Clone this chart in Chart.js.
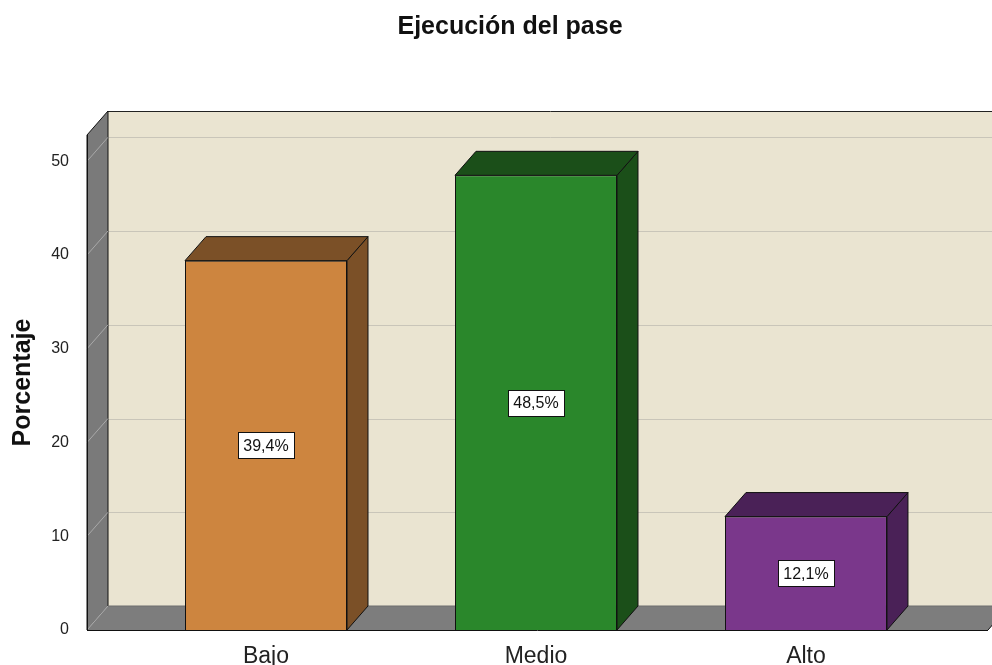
<!DOCTYPE html>
<html lang="es">
<head>
<meta charset="utf-8">
<title>Ejecución del pase</title>
<script src="https://cdn.jsdelivr.net/npm/chart.js@4.4.1/dist/chart.umd.min.js"></script>
<style>
  html, body { margin: 0; padding: 0; background: #ffffff; }
  #wrap { position: relative; width: 992px; height: 665px; }
</style>
</head>
<body>
<div id="wrap"><canvas id="paseChart"></canvas></div>
<script>
// --- data ---
const categories = ['Bajo', 'Medio', 'Alto'];
const percentages = [39.4, 48.5, 12.1];
const yTicks = [0, 10, 20, 30, 40, 50];

// --- styles ---
const frontColors = ['#CD853F', '#2A872B', '#7A378B'];
const sideColors = ['#7B5027', '#1B4F19', '#4A2157'];
const DX = 21, DY = -24;            // depth offset of the 3D box
const FONT = "'Liberation Sans', Arial, sans-serif";

function fmtPct(v) {
  return v.toFixed(1).replace('.', ',') + '%';
}

function poly(ctx, pts, fill, stroke) {
  ctx.beginPath();
  ctx.moveTo(pts[0][0], pts[0][1]);
  for (let i = 1; i < pts.length; i++) ctx.lineTo(pts[i][0], pts[i][1]);
  ctx.closePath();
  if (fill) { ctx.fillStyle = fill; ctx.fill(); }
  if (stroke) { ctx.strokeStyle = stroke; ctx.lineWidth = 1; ctx.stroke(); }
}

function line(ctx, x1, y1, x2, y2, color) {
  ctx.beginPath();
  ctx.moveTo(x1, y1);
  ctx.lineTo(x2, y2);
  ctx.strokeStyle = color;
  ctx.lineWidth = 1;
  ctx.stroke();
}

// walls, floor, grid and the side/top faces of the bars
const box3d = {
  id: 'box3d',
  beforeDatasetsDraw(chart) {
    const { ctx, chartArea: { left, top, bottom, right }, scales: { y } } = chart;
    const R = right - 4;
    ctx.save();

    // back wall
    ctx.fillStyle = '#EAE4D1';
    ctx.fillRect(left + DX, top + DY, R - left, bottom - top);
    yTicks.forEach(v => {
      if (v === 0) return;
      const py = Math.round(y.getPixelForValue(v) + DY) + 0.5;
      line(ctx, left + DX, py, R + DX, py, '#C9C5B9');
    });
    line(ctx, left + DX, Math.round(top + DY) + 0.5, R + DX, Math.round(top + DY) + 0.5, '#222');

    // left wall
    poly(ctx, [[left, top], [left + DX, top + DY], [left + DX, bottom + DY], [left, bottom]], '#7A7A7A', '#111');
    yTicks.forEach(v => {
      const py = y.getPixelForValue(v);
      line(ctx, left, py, left + DX, py + DY, '#A9A9A9');
    });

    // floor
    poly(ctx, [[left, bottom], [left + DX, bottom + DY], [R + DX, bottom + DY], [R, bottom]], '#7D7D7D', null);
    line(ctx, left, bottom, left + DX, bottom + DY, '#A9A9A9');
    line(ctx, left + DX, bottom + DY, R + DX, bottom + DY, '#6E6E6E');

    // bar side and top faces
    const meta = chart.getDatasetMeta(0);
    meta.data.forEach((bar, i) => {
      const { x, y: yTop, base, width } = bar.getProps(['x', 'y', 'base', 'width'], true);
      const l = x - width / 2, r = x + width / 2;
      poly(ctx, [[r, yTop], [r + DX, yTop + DY], [r + DX, base + DY], [r, base]], sideColors[i], '#111');
      poly(ctx, [[l, yTop], [l + DX, yTop + DY], [r + DX, yTop + DY], [r, yTop]], sideColors[i], '#111');
    });
    ctx.restore();
  },
  afterDatasetsDraw(chart) {
    const { ctx, chartArea: { left, top, bottom, right } } = chart;
    const R = right - 4;
    ctx.save();
    // front edges
    line(ctx, left + 0.5, top, left + 0.5, bottom, '#111');
    line(ctx, left, bottom + 0.5, R, bottom + 0.5, '#111');
    line(ctx, R, bottom, R + DX, bottom + DY, '#111');

    // value boxes
    ctx.font = '16px ' + FONT;
    ctx.textAlign = 'center';
    ctx.textBaseline = 'middle';
    const meta = chart.getDatasetMeta(0);
    meta.data.forEach((bar, i) => {
      const { x, y: yTop, base } = bar.getProps(['x', 'y', 'base'], true);
      const text = fmtPct(percentages[i]);
      const w = Math.ceil(ctx.measureText(text).width) + 10;
      const h = 26;
      const cy = (yTop + base) / 2;
      const bx = Math.round(x - w / 2) + 0.5, by = Math.round(cy - h / 2) + 0.5;
      ctx.fillStyle = '#ffffff';
      ctx.fillRect(bx, by, w, h);
      ctx.strokeStyle = '#111';
      ctx.lineWidth = 1;
      ctx.strokeRect(bx, by, w, h);
      ctx.fillStyle = '#111';
      ctx.fillText(text, x, cy + 1);
    });
    ctx.restore();
  }
};

const ctx = document.getElementById('paseChart');

new Chart(ctx, {
  type: 'bar',
  data: {
    datasets: [{
      label: 'Porcentaje',
      data: percentages.map((v, i) => ({ x: i, y: v })),
      backgroundColor: frontColors,
      borderColor: '#111',
      borderWidth: 1,
      barPercentage: 0.6,
      categoryPercentage: 1
    }]
  },
  options: {
    responsive: true,
    maintainAspectRatio: false,
    animation: false,
    layout: { padding: { left: 0, right: -28, top: 0, bottom: 0 } },
    plugins: {
      legend: { display: false },
      tooltip: { enabled: false },
      title: {
        display: true,
        text: 'Ejecución del pase',
        color: '#111',
        font: { family: FONT, size: 25, weight: 'bold' },
        padding: { top: 12, bottom: 93 }
      }
    },
    scales: {
      x: {
        type: 'linear',
        offset: false,
        min: -0.663,
        max: 2.689,
        grid: { display: false },
        border: { display: false },
        afterBuildTicks(scale) {
          scale.ticks = categories.map((c, i) => ({ value: i }));
        },
        afterFit(scale) { scale.height = 35; },
        ticks: {
          padding: 5,
          color: '#222',
          font: { family: FONT, size: 23 },
          callback: (v) => categories[v]
        }
      },
      y: {
        min: 0,
        max: 52.8,
        grid: { display: false },
        border: { display: false },
        afterFit(scale) { scale.width = 87; },
        ticks: {
          stepSize: 10,
          includeBounds: false,
          padding: 10,
          color: '#222',
          font: { family: FONT, size: 16 }
        },
        title: {
          display: true,
          text: 'Porcentaje',
          color: '#111',
          font: { family: FONT, size: 25, weight: 'bold' },
          padding: { top: 8, bottom: 0 }
        }
      }
    }
  },
  plugins: [box3d]
});
</script>
</body>
</html>
